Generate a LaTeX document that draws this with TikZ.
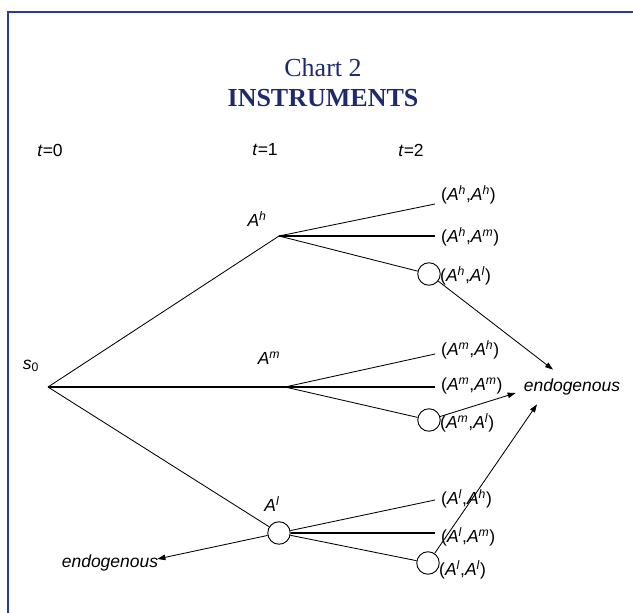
\documentclass[tikz,border=0pt]{standalone}
\usepackage{fontspec}
\setmainfont{Liberation Sans}
\newfontfamily\titlefont{Liberation Serif}
\usetikzlibrary{arrows.meta}
\definecolor{chartnavy}{HTML}{1E2A6E}
\definecolor{frameblue}{HTML}{2B3A9C}
\newcommand{\Ast}[1]{\textit{A}\textsuperscript{\textit{#1}}}
\newcommand{\Apair}[2]{(\Ast{#1},\Ast{#2})}

\begin{document}
\begin{tikzpicture}[x=1pt, y=-1pt, font=\fontsize{17.5}{20}\selectfont,
  branch/.style={line width=0.85pt},
  flat/.style={line width=1.4pt},
  choice/.style={circle, draw, line width=0.9pt, fill=white, minimum size=22.5pt, inner sep=0pt},
  leaf/.style={anchor=west, inner sep=1pt},
  endo/.style={inner sep=2pt},
  toendo/.style={line width=0.85pt, -{Triangle[length=8pt,width=5.5pt]}}]
\useasboundingbox (0,0) rectangle (633,613);
\draw[frameblue, line width=1.4pt] (8,613) -- (8,12) -- (633,12);

% title
\node[text=chartnavy, font=\titlefont\fontsize{26}{30}\selectfont] (title) at (323,68) {Chart 2};
\node[text=chartnavy, font=\titlefont\fontsize{26}{30}\selectfont\bfseries] (subtitle) at (323,98) {INSTRUMENTS};

% time axis
\node (t0) at (50,150) {\textit{t}=0};
\node (t1) at (265,150) {\textit{t}=1};
\node (t2) at (411,150) {\textit{t}=2};

% tree nodes
\coordinate (s0) at (48,387);
\node (s0lab) at (31,366) {\textit{s}\textsubscript{0}};
\coordinate (ah) at (279,236);
\coordinate (am) at (285,387);
\node[choice] (al) at (279,533) {};
\node (ahlab) at (257,219) {\Ast{h}};
\node (amlab) at (269,358) {\Ast{m}};
\node (allab) at (272,504) {\Ast{l}};

% leaves
\coordinate (ahh) at (435,204);
\coordinate (ahm) at (435,236);
\node[choice] (ahl) at (429,274) {};
\coordinate (amh) at (435,354);
\coordinate (amm) at (435,387);
\node[choice] (aml) at (429,420) {};
\coordinate (alh) at (435,500);
\coordinate (alm) at (435,533);
\node[choice] (all) at (428,563) {};

\node[leaf] (lhh) at (440,195) {\Apair{h}{h}};
\node[leaf] (lhm) at (440,237) {\Apair{h}{m}};
\node[leaf] (lhl) at (439,276) {\Apair{h}{l}};
\node[leaf] (lmh) at (440,350) {\Apair{m}{h}};
\node[leaf] (lmm) at (440,386) {\Apair{m}{m}};
\node[leaf] (lml) at (439,423) {\Apair{m}{l}};
\node[leaf] (llh) at (440,499) {\Apair{l}{h}};
\node[leaf] (llm) at (440,537) {\Apair{l}{m}};
\node[leaf] (lll) at (438,570) {\Apair{l}{l}};

% branches
\draw[branch] (s0) -- (ah);
\draw[flat] (s0) -- (am);
\draw[branch] (s0) -- (al);
\draw[branch] (ah) -- (ahh);
\draw[flat] (ah) -- (ahm);
\draw[branch] (ah) -- (ahl);
\draw[branch] (am) -- (amh);
\draw[flat] (am) -- (amm);
\draw[branch] (am) -- (aml);
\draw[branch] (al) -- (alh);
\draw[flat] (al) -- (alm);
\draw[branch] (al) -- (all);

% endogenous choices
\node[endo] (endoR) at (572,387) {\textit{endogenous}};
\node[endo] (endoL) at (110,563) {\textit{endogenous}};
\draw[toendo] (ahl) -- ([xshift=-19pt,yshift=7pt]endoR.north);
\draw[toendo] (aml) -- ([xshift=-6pt,yshift=-6pt]endoR.west);
\draw[toendo] (all) -- ([xshift=-35pt,yshift=-7pt]endoR.south);
\draw[toendo] (al) -- ([xshift=-3pt,yshift=4pt]endoL.east);
\end{tikzpicture}
\end{document}
